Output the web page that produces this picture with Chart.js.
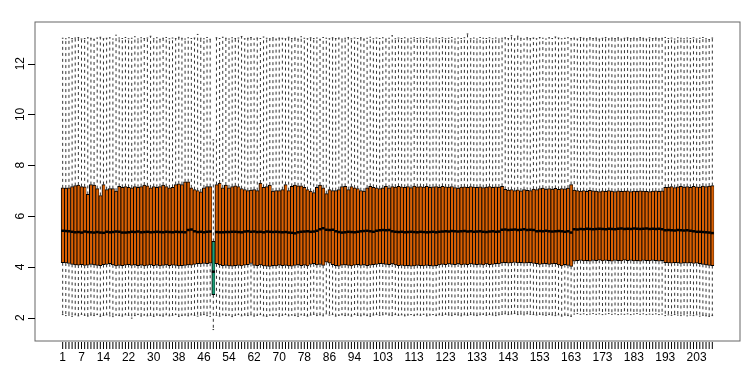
<!DOCTYPE html>
<html>
<head>
<meta charset="utf-8">
<script src="https://cdn.jsdelivr.net/npm/chart.js"></script>
<style>
body { margin: 0; background: #fff; }
#wrap { width: 756px; height: 378px; }
</style>
</head>
<body>
<div id="wrap"><canvas id="chart" width="756" height="378"></canvas></div>
<script>
// Box statistics per sample
var upperWhisker = [
  13.00,12.98,13.02,12.99,13.01,13.03,12.97,12.99,13.02,13.00,
  12.96,13.01,13.04,12.98,13.00,13.02,12.97,13.12,13.01,12.99,
  13.03,12.98,13.00,13.06,12.97,13.02,12.99,13.01,13.08,12.98,
  13.02,12.96,13.00,13.03,12.98,13.01,12.99,13.04,13.00,12.97,
  13.02,12.99,13.01,13.15,13.00,12.98,13.03,12.96,9.00,13.02,
  12.99,13.04,13.00,12.97,13.02,12.99,13.01,13.07,12.98,13.00,
  13.03,12.97,13.01,12.99,13.05,13.00,12.98,13.02,12.97,13.01,
  13.00,12.98,13.04,12.99,13.01,12.97,13.06,13.00,12.98,13.02,
  12.99,13.01,12.96,13.03,13.00,12.98,13.02,12.99,13.01,12.97,
  13.00,13.03,12.98,13.01,12.99,13.02,12.97,13.00,13.04,12.98,
  13.01,12.99,13.02,12.97,13.00,13.10,12.98,13.01,12.99,13.02,
  12.97,13.00,13.02,12.99,13.01,12.98,13.03,13.00,12.97,13.01,
  12.99,13.02,12.98,13.00,13.03,12.97,13.01,12.99,13.02,13.17,
  12.98,13.01,12.97,13.03,13.00,12.99,13.02,12.98,13.01,12.97,
  13.00,13.02,12.99,13.10,12.98,13.08,13.00,12.97,13.02,12.99,
  13.01,12.98,13.03,13.00,12.97,13.02,12.99,13.05,13.01,12.98,
  13.00,13.02,12.99,13.01,12.97,13.03,13.00,12.98,13.02,12.99,
  13.01,12.97,13.00,13.03,12.98,13.01,12.99,13.02,12.97,13.00,
  13.02,12.99,13.01,12.98,13.03,13.00,12.97,13.02,12.99,13.01,
  12.98,13.00,13.03,12.99,13.01,12.97,13.02,13.00,12.98,13.01,
  12.99,13.02,12.97,13.00,13.03,12.98,12.95,13.01
];
var q3 = [
  7.11,7.10,7.11,7.16,7.20,7.22,7.16,7.15,6.85,7.24,
  7.22,7.08,6.81,7.24,7.04,7.08,7.08,6.98,7.17,7.13,
  7.16,7.13,7.11,7.16,7.13,7.16,7.22,7.19,7.11,7.16,
  7.13,7.16,7.22,7.16,7.11,7.13,7.24,7.27,7.24,7.35,
  7.35,7.11,7.04,7.00,6.95,7.11,7.16,7.16,5.00,7.24,
  7.30,7.11,7.22,7.11,7.16,7.19,7.16,7.08,7.04,7.00,
  7.02,7.04,7.00,7.30,7.13,7.16,7.22,6.98,7.00,7.00,
  7.04,7.24,7.00,7.17,7.22,7.19,7.19,7.13,7.04,6.98,
  6.92,7.13,7.22,7.11,6.88,7.04,7.00,7.00,7.04,7.16,
  7.17,7.04,7.16,7.11,7.08,7.00,6.98,7.11,7.17,7.13,
  7.11,7.08,7.11,7.17,7.11,7.16,7.14,7.17,7.15,7.13,
  7.16,7.12,7.18,7.15,7.16,7.14,7.17,7.13,7.15,7.16,
  7.13,7.17,7.15,7.14,7.16,7.12,7.10,7.14,7.15,7.13,
  7.16,7.14,7.13,7.15,7.12,7.14,7.16,7.13,7.15,7.14,
  7.17,7.05,7.02,7.04,7.00,7.03,6.99,7.04,7.01,7.00,
  7.06,7.04,7.08,7.10,7.06,7.08,7.06,7.09,7.05,7.08,
  7.07,7.10,7.24,7.02,7.00,6.98,7.00,6.97,7.01,6.99,
  6.98,6.96,6.99,6.97,7.00,6.98,6.96,6.99,6.97,6.98,
  6.99,6.96,6.98,6.97,6.99,6.98,6.97,6.96,6.98,6.99,
  6.97,6.99,7.13,7.14,7.16,7.12,7.15,7.17,7.14,7.16,
  7.13,7.17,7.15,7.14,7.18,7.16,7.18,7.20
];
var medians = [
  5.42,5.41,5.40,5.38,5.36,5.37,5.35,5.39,5.37,5.36,
  5.35,5.37,5.35,5.34,5.38,5.36,5.37,5.39,5.38,5.35,
  5.35,5.36,5.38,5.37,5.39,5.36,5.37,5.38,5.36,5.37,
  5.38,5.37,5.36,5.38,5.37,5.36,5.38,5.37,5.37,5.36,
  5.45,5.47,5.40,5.37,5.38,5.36,5.38,5.39,3.81,5.37,
  5.36,5.36,5.37,5.37,5.38,5.38,5.37,5.36,5.39,5.40,
  5.38,5.39,5.37,5.38,5.36,5.39,5.38,5.37,5.38,5.37,
  5.36,5.37,5.35,5.34,5.32,5.36,5.38,5.39,5.40,5.38,
  5.39,5.42,5.48,5.52,5.46,5.45,5.46,5.40,5.37,5.35,
  5.36,5.38,5.37,5.36,5.38,5.40,5.41,5.42,5.40,5.38,
  5.42,5.44,5.45,5.44,5.45,5.40,5.38,5.37,5.38,5.36,
  5.37,5.38,5.37,5.36,5.38,5.37,5.36,5.37,5.38,5.36,
  5.38,5.39,5.40,5.39,5.41,5.40,5.39,5.40,5.41,5.39,
  5.40,5.38,5.39,5.40,5.38,5.37,5.39,5.40,5.38,5.39,
  5.46,5.47,5.45,5.46,5.47,5.45,5.46,5.48,5.45,5.46,
  5.45,5.40,5.41,5.40,5.42,5.40,5.39,5.40,5.41,5.40,
  5.38,5.40,5.35,5.48,5.47,5.49,5.48,5.50,5.49,5.48,
  5.49,5.50,5.49,5.48,5.50,5.49,5.48,5.50,5.51,5.49,
  5.50,5.49,5.51,5.50,5.49,5.50,5.51,5.49,5.50,5.49,
  5.50,5.48,5.44,5.45,5.44,5.43,5.45,5.44,5.43,5.44,
  5.42,5.40,5.38,5.38,5.37,5.36,5.35,5.33
];
var q1 = [
  4.16,4.15,4.13,4.10,4.08,4.07,4.09,4.06,4.07,4.10,
  4.08,4.06,4.05,4.09,4.10,4.12,4.08,4.04,4.06,4.05,
  4.07,4.09,4.06,4.08,4.05,4.07,4.04,4.06,4.08,4.05,
  4.07,4.04,4.06,4.08,4.05,4.07,4.06,4.04,4.05,4.06,
  4.08,4.07,4.10,4.12,4.11,4.13,4.12,4.14,2.90,4.12,
  4.08,4.05,4.06,4.04,4.03,4.05,4.06,4.04,4.07,4.09,
  4.13,4.06,4.05,4.08,4.04,4.03,4.02,4.05,4.04,4.07,
  4.05,4.06,4.04,4.03,4.06,4.08,4.05,4.07,4.04,4.10,
  4.12,4.08,4.10,4.06,4.18,4.14,4.09,4.05,4.03,4.07,
  4.08,4.06,4.04,4.07,4.09,4.06,4.08,4.05,4.07,4.09,
  4.10,4.12,4.11,4.10,4.09,4.11,4.08,4.05,4.06,4.04,
  4.05,4.03,4.04,4.06,4.05,4.04,4.06,4.05,4.03,4.05,
  4.08,4.10,4.09,4.11,4.10,4.09,4.11,4.08,4.10,4.09,
  4.11,4.10,4.09,4.10,4.08,4.11,4.09,4.10,4.12,4.11,
  4.15,4.16,4.14,4.15,4.17,4.15,4.16,4.14,4.15,4.16,
  4.13,4.12,4.10,4.11,4.12,4.10,4.11,4.12,4.08,4.04,
  4.09,4.06,4.02,4.22,4.24,4.25,4.23,4.24,4.22,4.25,
  4.24,4.26,4.23,4.25,4.24,4.22,4.25,4.24,4.23,4.26,
  4.24,4.25,4.23,4.24,4.22,4.25,4.24,4.23,4.25,4.24,
  4.22,4.24,4.16,4.15,4.14,4.16,4.15,4.13,4.15,4.14,
  4.15,4.13,4.14,4.12,4.10,4.08,4.06,4.05
];
var lowerWhisker = [
  2.12,2.08,2.10,2.05,2.11,2.07,2.13,2.09,2.06,2.10,
  2.08,2.12,2.05,2.09,2.11,2.07,2.04,2.10,2.08,2.06,
  2.11,2.09,1.98,2.08,2.12,2.06,2.10,2.07,2.09,2.05,
  2.10,2.08,2.06,2.11,2.07,2.09,2.12,2.05,2.08,2.10,
  2.07,2.11,2.09,2.06,2.10,2.12,2.08,2.05,1.53,2.09,
  2.06,2.11,2.08,2.10,2.04,2.09,2.12,2.07,2.10,2.08,
  2.11,2.06,2.09,2.12,2.07,2.05,2.10,2.08,2.11,2.06,
  2.09,2.12,2.07,2.10,2.08,2.05,2.11,2.09,2.06,2.10,
  2.13,2.08,2.11,2.07,2.15,2.10,2.12,2.06,2.09,2.11,
  2.08,2.10,2.06,2.12,2.09,2.07,2.11,2.08,2.05,2.10,
  2.12,2.09,2.11,2.14,2.10,2.08,2.12,2.09,2.11,2.07,
  2.10,2.12,2.08,2.11,2.09,2.13,2.07,2.10,2.12,2.08,
  2.11,2.09,2.13,2.10,2.08,2.12,2.10,2.07,2.11,2.09,
  2.12,2.10,2.08,2.11,2.13,2.09,2.12,2.10,2.08,2.11,
  2.13,2.15,2.12,2.14,2.16,2.12,2.14,2.11,2.15,2.13,
  2.12,2.10,2.13,2.11,2.09,2.12,2.10,2.08,2.11,2.06,
  2.10,2.08,2.05,2.14,2.16,2.13,2.15,2.12,2.14,2.16,
  2.13,2.15,2.12,2.14,2.16,2.13,2.15,2.12,2.14,2.13,
  2.15,2.12,2.14,2.16,2.13,2.15,2.12,2.14,2.13,2.15,
  2.12,2.14,2.08,2.11,2.09,2.12,2.10,2.08,2.11,2.07,
  2.10,2.08,2.11,2.06,2.09,2.07,2.05,2.08
];

// sample drawn in the second colour
var highlighted = [49];

// axis labels
var xTickLabels = [1,7,14,22,30,38,46,54,62,70,78,86,94,103,113,123,133,143,153,163,173,183,193,203];
var yTickValues = [2,4,6,8,10,12];

var categories = [];
for (var i = 1; i <= q3.length; i++) categories.push(i);

var boxColors = categories.map(function(c) {
  return highlighted.indexOf(c) >= 0 ? '#1B9E77' : '#D95F02';
});

var FONT = '12px "Liberation Sans", Arial, sans-serif';

// whiskers, medians, frame and axes in the R boxplot style
var boxplotExtras = {
  id: 'boxplotExtras',
  beforeDatasetsDraw: function(chart) {
    var ctx = chart.ctx, xs = chart.scales.x, ys = chart.scales.y;
    var step = xs.getPixelForValue(2) - xs.getPixelForValue(1);
    var cap = step * 0.25;
    ctx.save();
    ctx.strokeStyle = '#333';
    ctx.lineWidth = 1;
    categories.forEach(function(c, i) {
      var px = xs.getPixelForValue(c);
      var yHi = ys.getPixelForValue(upperWhisker[i]);
      var yLo = ys.getPixelForValue(lowerWhisker[i]);
      ctx.setLineDash([3, 3]);
      ctx.beginPath();
      ctx.moveTo(px, ys.getPixelForValue(q3[i]));
      ctx.lineTo(px, yHi);
      ctx.moveTo(px, ys.getPixelForValue(q1[i]));
      ctx.lineTo(px, yLo);
      ctx.stroke();
      ctx.setLineDash([]);
      ctx.beginPath();
      ctx.moveTo(px - cap, yHi); ctx.lineTo(px + cap, yHi);
      ctx.moveTo(px - cap, yLo); ctx.lineTo(px + cap, yLo);
      ctx.stroke();
    });
    ctx.restore();
  },
  afterDatasetsDraw: function(chart) {
    var ctx = chart.ctx, xs = chart.scales.x, ys = chart.scales.y;
    var step = xs.getPixelForValue(2) - xs.getPixelForValue(1);
    ctx.save();
    ctx.strokeStyle = '#000';
    ctx.lineWidth = 2.5;
    categories.forEach(function(c, i) {
      var px = xs.getPixelForValue(c);
      var py = ys.getPixelForValue(medians[i]);
      ctx.beginPath();
      ctx.moveTo(px - step / 2, py);
      ctx.lineTo(px + step / 2, py);
      ctx.stroke();
    });
    ctx.restore();
  },
  afterDraw: function(chart) {
    var ctx = chart.ctx, xs = chart.scales.x, ys = chart.scales.y;
    var area = chart.chartArea;
    ctx.save();
    ctx.lineWidth = 1;
    // frame
    ctx.strokeStyle = '#666';
    ctx.strokeRect(area.left, area.top, area.right - area.left, area.bottom - area.top);
    ctx.strokeStyle = '#000';

    // y axis
    ctx.beginPath();
    yTickValues.forEach(function(v) {
      var py = Math.round(ys.getPixelForValue(v)) + 0.5;
      ctx.moveTo(area.left, py);
      ctx.lineTo(area.left - 7, py);
    });
    ctx.stroke();
    ctx.fillStyle = '#000';
    ctx.font = FONT;
    ctx.textAlign = 'center';
    ctx.textBaseline = 'middle';
    yTickValues.forEach(function(v) {
      ctx.save();
      ctx.translate(21, ys.getPixelForValue(v));
      ctx.rotate(-Math.PI / 2);
      ctx.fillText(String(v), 0, 0);
      ctx.restore();
    });

    // x axis: a tick for every sample, labels for some
    var axisY = area.bottom + 1;
    ctx.beginPath();
    categories.forEach(function(c) {
      var px = xs.getPixelForValue(c);
      ctx.moveTo(px, axisY);
      ctx.lineTo(px, axisY + 7);
    });
    ctx.stroke();
    ctx.textBaseline = 'alphabetic';
    xTickLabels.forEach(function(c) {
      ctx.fillText(String(c), xs.getPixelForValue(c), 361);
    });
    ctx.restore();
  }
};

var ctx = document.getElementById('chart').getContext('2d');
var chart = new Chart(ctx, {
  type: 'bar',
  data: {
    datasets: [{
      data: categories.map(function(c, i) { return { x: c, y: [q1[i], q3[i]] }; }),
      backgroundColor: boxColors,
      borderColor: '#000',
      borderWidth: { left: 1, right: 0.5, top: 1, bottom: 1 },
      borderSkipped: false,
      barPercentage: 1,
      categoryPercentage: 1
    }]
  },
  options: {
    responsive: false,
    animation: false,
    events: [],
    layout: { padding: { left: 35, right: 16, top: 22, bottom: 37 } },
    scales: {
      x: { type: 'linear', min: -7.82, max: 216.82, offset: false, display: false },
      y: { type: 'linear', min: 1.08, max: 13.64, display: false }
    },
    plugins: {
      legend: { display: false },
      tooltip: { enabled: false }
    }
  },
  plugins: [boxplotExtras]
});
</script>
</body>
</html>
